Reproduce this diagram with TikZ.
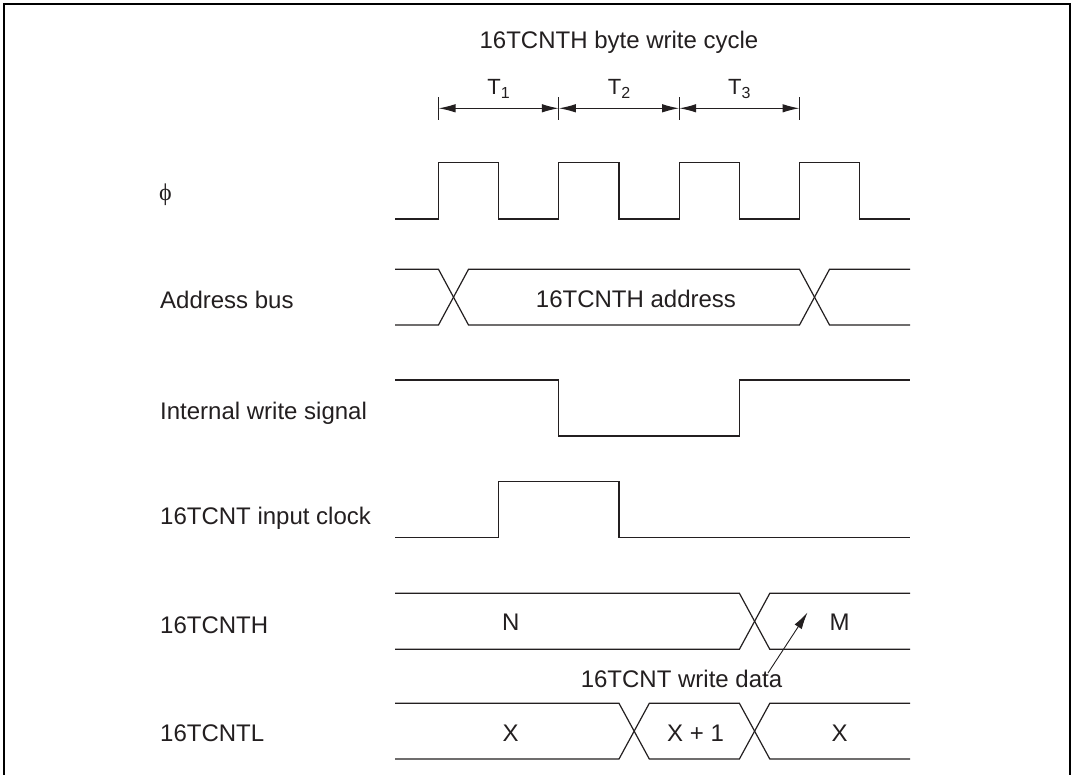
\documentclass[tikz,border=0pt]{standalone}
\usepackage{fontspec}
\setmainfont{Liberation Sans}
\newfontfamily\phifont{Liberation Serif}
\usetikzlibrary{arrows.meta}
\definecolor{ink}{RGB}{35,31,32}
\begin{document}
\begin{tikzpicture}[x=1pt,y=-1pt,
  sig/.style={draw=ink,line width=1.2pt,line join=miter},
  txt/.style={font=\fontsize{24}{29}\selectfont,text=ink,inner sep=0pt,text height=17pt,text depth=0pt},
  lefttxt/.style={txt,anchor=west},
  tlbl/.style={font=\fontsize{22}{26}\selectfont,text=ink,inner sep=0pt,anchor=base},
  dim/.style={draw=ink,line width=1.2pt,{Latex[length=17pt,width=8.5pt]}-{Latex[length=17pt,width=8.5pt]}},
  tick/.style={draw=ink,line width=1.2pt},
  pointer/.style={draw=ink,line width=0.9pt,-{Latex[length=17pt,width=8.5pt]}}]
\useasboundingbox (0,0) rectangle (1073,775);
\fill[white] (0,0) rectangle (1073,775);
% frame
\draw[line width=2.6pt,black] (4,776) -- (4,4) -- (1070,4) -- (1070,776);

% title and T markers
\node[txt] (title) at (619,40) {16TCNTH byte write cycle};
\coordinate (t0) at (438.5,108.3);
\coordinate (t1) at (558.8,108.3);
\coordinate (t2) at (679.2,108.3);
\coordinate (t3) at (799.5,108.3);
\foreach \c in {t0,t1,t2,t3} \draw[tick] ([yshift=-11.5pt]\c) -- ([yshift=11.5pt]\c);
\draw[dim] (t0) -- (t1);
\draw[dim] (t1) -- (t2);
\draw[dim] (t2) -- (t3);
\node[tlbl] (T1) at (498.6,94.5) {T\raisebox{-4pt}{\fontsize{16}{16}\selectfont 1}};
\node[tlbl] (T2) at (619,94.5) {T\raisebox{-4pt}{\fontsize{16}{16}\selectfont 2}};
\node[tlbl] (T3) at (739.4,94.5) {T\raisebox{-4pt}{\fontsize{16}{16}\selectfont 3}};

% left labels
\node[anchor=base west,inner sep=0pt,text=ink,font=\phifont\fontsize{24}{29}\selectfont] (lphi) at (159,201) {ϕ};
\node[lefttxt] (laddr) at (160,300) {Address bus};
\node[lefttxt] (lwr) at (160,411) {Internal write signal};
\node[lefttxt] (lclk) at (160,516) {16TCNT input clock};
\node[lefttxt] (lh) at (160,625) {16TCNTH};
\node[lefttxt] (ll) at (160,733) {16TCNTL};

% phi clock
\draw[sig] (395,219) -- (438.5,219) -- (438.5,162.7) -- (498.7,162.7) -- (498.7,219)
  -- (558.8,219) -- (558.8,162.7) -- (619,162.7) -- (619,219)
  -- (679.2,219) -- (679.2,162.7) -- (739.4,162.7) -- (739.4,219)
  -- (799.5,219) -- (799.5,162.7) -- (859.7,162.7) -- (859.7,219) -- (910,219);

% address bus
\draw[sig] (395,269.3) -- (438.5,269.3) -- (468.5,325) -- (799.5,325) -- (829.5,269.3) -- (910,269.3);
\draw[sig] (395,325) -- (438.5,325) -- (468.5,269.3) -- (799.5,269.3) -- (829.5,325) -- (910,325);
\node[txt] (addr) at (636,299) {16TCNTH address};

% internal write signal
\draw[sig] (395,380) -- (558.8,380) -- (558.8,436) -- (739.4,436) -- (739.4,380) -- (910,380);

% 16TCNT input clock
\draw[sig] (395,537.7) -- (498.7,537.7) -- (498.7,481.7) -- (619,481.7) -- (619,537.7) -- (910,537.7);

% 16TCNTH
\draw[sig] (395,593.3) -- (739.4,593.3) -- (769.8,649.3) -- (910,649.3);
\draw[sig] (395,649.3) -- (739.4,649.3) -- (769.8,593.3) -- (910,593.3);
\node[txt] (N) at (510.7,622.3) {N};
\node[txt] (M) at (839.5,622.3) {M};

% write data pointer
\node[txt] (wd) at (681.5,678.5) {16TCNT write data};
\coordinate (wdtail) at (768,673);
\coordinate (wdhead) at (807.5,612.5);
\draw[pointer] (wdtail) -- (wdhead);

% 16TCNTL
\draw[sig] (395,703.3) -- (619,703.3) -- (649.3,759) -- (739.4,759) -- (769.8,703.3) -- (910,703.3);
\draw[sig] (395,759) -- (619,759) -- (649.3,703.3) -- (739.4,703.3) -- (769.8,759) -- (910,759);
\node[txt] (X1) at (510.7,732.8) {X};
\node[txt] (X2) at (695.5,732.8) {X + 1};
\node[txt] (X3) at (839.5,732.8) {X};
\end{tikzpicture}
\end{document}
